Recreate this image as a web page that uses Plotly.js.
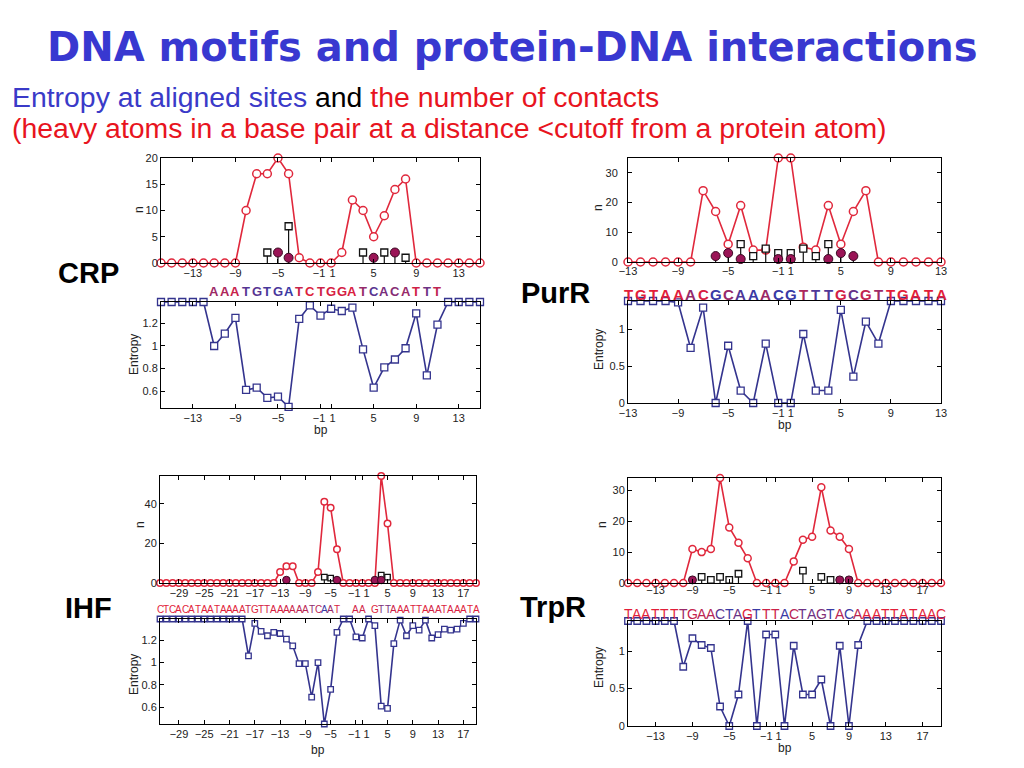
<!DOCTYPE html>
<html><head><meta charset="utf-8">
<script src="https://cdn.plot.ly/plotly-3.0.1.min.js"></script>
<style>html,body{margin:0;padding:0;background:#fff;}#chart{width:1024px;height:768px;}</style>
</head><body><div id="chart"></div>
<script>
// ---------- DATA ----------
const crpPos = [-16,-15,-14,-13,-12,-11,-10,-9,-8,-7,-6,-5,-4,-3,-2,-1,1,2,3,4,5,6,7,8,9,10,11,12,13,14,15];
const crpN = [0,0,0,0,0,0,0,0,10,17,17,20,17,1,0,0,0,2,12,10,5,9,14,16,0,0,0,0,0,0,0];
const crpEnt = [1.39,1.39,1.39,1.39,1.39,1.0,1.11,1.25,0.61,0.63,0.54,0.55,0.46,1.24,1.36,1.27,1.33,1.31,1.34,0.97,0.63,0.81,0.88,0.98,1.29,0.74,1.19,1.39,1.39,1.39,1.39];
const crpSqPos = [-6,-4,4,6,8];
const crpSqVal = [2,7,2,2,1];
const crpMagPos = [-5,-4,5,7];
const crpMagVal = [2,1,1,2];
const crpSeqPos = [-11,-10,-9,-8,-7,-6,-5,-4,-3,-2,-1,1,2,3,4,5,6,7,8,9,10,11];
const crpSeq = "AAATGTGATCTGGATCACATTT";
const crpTicks = [-13,-9,-5,-1,1,5,9,13];

const purPos = [-13,-12,-11,-10,-9,-8,-7,-6,-5,-4,-3,-2,-1,1,2,3,4,5,6,7,8,9,10,11,12,13];
const purN = [0,0,0,0,0,0,24,17,6,19,4,4,35,35,5,4,19,6,17,24,0,0,0,0,0,0];
const purEnt = [1.39,1.39,1.39,1.39,1.37,0.75,1.3,0,0.78,0.17,0,0.81,0,0,0.94,0.17,0.17,1.27,0.36,1.11,0.81,1.39,1.39,1.39,1.39,1.39];
const purSqPos = [-4,-3,-2,-1,1,2,3,4];
const purSqVal = [6,2,4.5,3,3,4.5,2,6];
const purMagPos = [-6,-5,-4,-1,1,4,5,6];
const purMagVal = [2,3,1,1,1,1,3,2];
const purSeqPos = purPos;
const purSeq = "TGTAAACGCAAACGTTTGCGTTGATA";
const purTicks = [-13,-9,-5,-1,1,5,9,13];

const ihfPos = [-32,-31,-30,-29,-28,-27,-26,-25,-24,-23,-22,-21,-20,-19,-18,-17,-16,-15,-14,-13,-12,-11,-10,-9,-8,-7,-6,-5,-4,-3,-2,-1,1,2,3,4,5,6,7,8,9,10,11,12,13,14,15,16,17,18,19];
const ihfN = [0,0,0,0,0,0,0,0,0,0,0,0,0,0,0,0,0,0,0,5.5,8.5,8.5,0,0,0,5.5,41,38,17,0,0,0,0,0,0,54,30,0,0,0,0,0,0,0,0,0,0,0,0,0,0];
const ihfEnt = [1.39,1.39,1.39,1.39,1.39,1.39,1.39,1.39,1.39,1.39,1.39,1.39,1.39,1.39,1.06,1.35,1.28,1.24,1.27,1.26,1.21,1.15,0.99,0.99,0.69,1.0,0.45,0.76,1.27,1.39,1.39,1.23,1.22,1.39,1.33,0.61,0.59,1.17,1.38,1.24,1.33,1.29,1.38,1.22,1.25,1.30,1.29,1.30,1.35,1.39,1.39];
const ihfSqPos = [-6,-5,4,5];
const ihfSqVal = [3,2.5,4,3];
const ihfMagPos = [-12,-4,3,4];
const ihfMagVal = [1.5,1.5,1.5,1.5];
const ihfSeqPos = ihfPos;
const ihfSeq = "CTCACATAATAAAATGTTAAAAAATCAAT  AA GTTAAATTAAATAAATA";
const ihfTicks = [-29,-25,-21,-17,-13,-9,-5,-1,1,5,9,13,17];

const trpPos = [-16,-15,-14,-13,-12,-11,-10,-9,-8,-7,-6,-5,-4,-3,-2,-1,1,2,3,4,5,6,7,8,9,10,11,12,13,14,15,16,17,18,19];
const trpN = [0,0,0,0,0,0,0,11,10,11,34,18,13,8,0,0,0,0,7,14,15,31,17,15,11,0,0,0,0,0,0,0,0,0,0];
const trpEnt = [1.4,1.4,1.4,1.4,1.4,1.4,0.79,1.17,1.08,1.04,0.26,0,0.42,1.4,0,1.22,1.22,0,1.07,0.42,0.42,0.62,0,1.07,0,1.08,1.4,1.4,1.4,1.4,1.4,1.4,1.4,1.4,1.4];
const trpSqPos = [-8,-7,-6,-5,-4,4,6,7];
const trpSqVal = [2,1,2,1,3,4,2,1];
const trpMagPos = [-9,8,9];
const trpMagVal = [1,1,1];
const trpSeqPos = trpPos;
const trpSeq = "TAATTTTGAACTAGTTTACTAGTACAAATTATAAC";
const trpTicks = [-13,-9,-5,-1,1,5,9,13,17];

// ---------- STYLE / LAYOUT ----------
const RED = '#e0283c', BLUE = '#34348e', MAG = '#9a1456';
const W = 1024, H = 768;
const panels = [
  {name:'CRP', pos:crpPos, n:crpN, ent:crpEnt, sqP:crpSqPos, sqV:crpSqVal, mgP:crpMagPos, mgV:crpMagVal,
   seqP:crpSeqPos, seq:crpSeq, ticks:crpTicks, nTicks:[0,5,10,15,20], nMax:20, eTicks:[0.6,0.8,1,1.2], eRange:[0.45,1.39],
   x:[161,480], top:[158,263], bot:[302,408], seqY:292, seqSize:13, seqBold:true, seqFam:'Liberation Sans, Arial, sans-serif', ms:8, ss:7,
   lbl:[88,273], nLbl:[139,210], eLbl:[134,355], bpLbl:[321,430], topStand:0, yStand:0, pad:1, merge:null},
  {name:'PurR', pos:purPos, n:purN, ent:purEnt, sqP:purSqPos, sqV:purSqVal, mgP:purMagPos, mgV:purMagVal,
   seqP:purSeqPos, seq:purSeq, ticks:purTicks, nTicks:[0,10,20,30], nMax:35, eTicks:[0,0.5,1], eRange:[0,1.39],
   x:[628,941], top:[158,262], bot:[301,403], seqY:294, seqSize:15, seqBold:true, seqFam:'Liberation Sans, Arial, sans-serif', ms:8, ss:7,
   lbl:[555,293], nLbl:[598,208], eLbl:[599,350], bpLbl:[785,425], topStand:-1, yStand:7, pad:0, merge:null},
  {name:'IHF', pos:ihfPos, n:ihfN, ent:ihfEnt, sqP:ihfSqPos, sqV:ihfSqVal, mgP:ihfMagPos, mgV:ihfMagVal,
   seqP:ihfSeqPos, seq:ihfSeq, ticks:ihfTicks, nTicks:[0,20,40], nMax:54, eTicks:[0.6,0.8,1,1.2], eRange:[0.45,1.39],
   x:[160,476], top:[476,583], bot:[619,724], seqY:609, seqSize:10, seqBold:false, seqFam:'Liberation Sans Narrow, Liberation Sans, Arial, sans-serif', ms:6.5, ss:5.5,
   lbl:[88,608], nLbl:[140,525], eLbl:[134,675], bpLbl:[318,750], topStand:0, yStand:0, pad:0, merge:[593,734]},
  {name:'TrpR', pos:trpPos, n:trpN, ent:trpEnt, sqP:trpSqPos, sqV:trpSqVal, mgP:trpMagPos, mgV:trpMagVal,
   seqP:trpSeqPos, seq:trpSeq, ticks:trpTicks, nTicks:[0,10,20,30], nMax:34, eTicks:[0,0.5,1], eRange:[0,1.4],
   x:[628,941], top:[478,583], bot:[621,726], seqY:614, seqSize:14, seqBold:false, seqFam:'Liberation Sans, Arial, sans-serif', ms:7, ss:6.5,
   lbl:[553,607], nLbl:[602,525], eLbl:[599,668], bpLbl:[785,748], topStand:-3, yStand:0, pad:0, merge:[590,736]}
];

function toX(p){ return p < 0 ? p : p - 1; }
function px(x){ return x / W; }
function py(y){ return 1 - y / H; }
function fmt(v){ return v < 0 ? '\u2212' + Math.abs(v) : String(v); }
function tickFmt(v, p){
  if (p.merge && (v === -1 || v === 1)) return '';
  const sp = '\u00a0'.repeat(p.pad);
  if (v === -1) return fmt(v) + sp;
  if (v === 1) return sp + fmt(v);
  return fmt(v);
}
function mix(t){
  const a=[58,58,165], b=[226,30,58];
  const c=a.map((v,i)=>Math.round(v+(b[i]-v)*t));
  return 'rgb('+c.join(',')+')';
}

const traces = [], annotations = [], layout = {
  width:W, height:H, margin:{l:0,r:0,t:0,b:0}, paper_bgcolor:'#fff', plot_bgcolor:'#fff',
  showlegend:false, font:{family:'Liberation Sans, Arial, sans-serif', size:11, color:'#222'}
};
const TICKFONT = {family:'Liberation Sans, Arial, sans-serif', size:11, color:'#222'};

function axisBase(){
  return {showline:true, mirror:'ticks', linecolor:'#000', linewidth:1, ticks:'inside', ticklen:4,
    tickcolor:'#000', zeroline:false, showgrid:false, fixedrange:true, tickangle:0, tickfont:TICKFONT};
}

panels.forEach((p,k)=>{
  const ti = 2*k+1, bi = 2*k+2;
  const xs = p.pos.map(toX);
  const xr = [xs[0], xs[xs.length-1]];
  const tv = p.ticks.map(toX), tt = p.ticks.map(v=>tickFmt(v,p));
  const xt = 'x'+(ti===1?'':ti), yt = 'y'+(ti===1?'':ti);
  const xb = 'x'+bi, yb = 'y'+bi;
  const xa = Object.assign(axisBase(), {domain:[px(p.x[0]),px(p.x[1])], range:xr, tickmode:'array', tickvals:tv, ticktext:tt, anchor:yt, ticklabelstandoff:p.topStand});
  const ya = Object.assign(axisBase(), {domain:[py(p.top[1]),py(p.top[0])], range:[0,p.nMax], tickmode:'array', tickvals:p.nTicks, anchor:xt, ticklabelstandoff:p.yStand});
  const xa2 = Object.assign(axisBase(), {domain:[px(p.x[0]),px(p.x[1])], range:xr, tickmode:'array', tickvals:tv, ticktext:tt, anchor:yb});
  const ya2 = Object.assign(axisBase(), {domain:[py(p.bot[1]),py(p.bot[0])], range:p.eRange, tickmode:'array', tickvals:p.eTicks, anchor:xb});
  layout['xaxis'+(ti===1?'':ti)] = xa; layout['yaxis'+(ti===1?'':ti)] = ya;
  layout['xaxis'+bi] = xa2; layout['yaxis'+bi] = ya2;

  // merged "-1 1" label (the two ticks sit one base apart)
  if (p.merge){
    const mid = (toX(-1)+toX(1))/2;
    [[xt,p.merge[0]],[xb,p.merge[1]]].forEach(([ax,yy])=>{
      annotations.push({xref:ax, yref:'paper', x:mid, y:py(yy), text:fmt(-1)+'\u00a0'+fmt(1), showarrow:false,
        xanchor:'center', yanchor:'middle', font:TICKFONT});
    });
  }

  // contacts line
  traces.push({x:xs, y:p.n, xaxis:xt, yaxis:yt, mode:'lines+markers', cliponaxis:false,
    line:{color:RED, width:1.6}, marker:{symbol:'circle', size:p.ms, color:'#fff', line:{color:RED, width:1.5}}});
  // stems
  function stems(P,V){
    const sx=[], sy=[];
    P.forEach((q,i)=>{ sx.push(toX(q),toX(q),null); sy.push(0,V[i],null); });
    return {x:sx, y:sy, xaxis:xt, yaxis:yt, mode:'lines', cliponaxis:false, line:{color:'#111', width:1.2}, hoverinfo:'skip'};
  }
  traces.push(stems(p.sqP,p.sqV));
  traces.push(stems(p.mgP,p.mgV));
  traces.push({x:p.sqP.map(toX), y:p.sqV, xaxis:xt, yaxis:yt, mode:'markers', cliponaxis:false,
    marker:{symbol:'square', size:p.ss, color:'#fff', line:{color:'#111', width:1.3}}});
  traces.push({x:p.mgP.map(toX), y:p.mgV, xaxis:xt, yaxis:yt, mode:'markers', cliponaxis:false,
    marker:{symbol:'circle', size:p.ms+1, color:MAG, line:{color:'#3a0a22', width:1}}});
  // entropy
  traces.push({x:xs, y:p.ent, xaxis:xb, yaxis:yb, mode:'lines+markers', cliponaxis:false,
    line:{color:BLUE, width:1.6}, marker:{symbol:'square', size:p.ss, color:'#fff', line:{color:BLUE, width:1.3}}});

  // sequence letters coloured by entropy
  const emin = Math.min(...p.ent), emax = Math.max(...p.ent);
  for (let i=0;i<p.seq.length;i++){
    const ch = p.seq[i]; if (ch===' ') continue;
    const q = p.seqP[i];
    const e = p.ent[p.pos.indexOf(q)];
    const t = Math.pow((e-emin)/(emax-emin), k===2 ? 0.5 : 1);
    annotations.push({xref:xb, yref:'paper', x:toX(q), y:py(p.seqY), text:p.seqBold?'<b>'+ch+'</b>':ch,
      showarrow:false, xanchor:'center', yanchor:'middle',
      font:{family:p.seqFam, size:p.seqSize, color:mix(t)}});
  }
  // labels
  annotations.push({xref:'paper', yref:'paper', x:px(p.lbl[0]), y:py(p.lbl[1]), text:'<b>'+p.name+'</b>', showarrow:false,
    xanchor:'center', yanchor:'middle', font:{family:'Liberation Sans, Arial, sans-serif', size:29, color:'#000'}});
  annotations.push({xref:'paper', yref:'paper', x:px(p.nLbl[0]), y:py(p.nLbl[1]), text:'n', textangle:-90, showarrow:false,
    xanchor:'center', yanchor:'middle', font:{size:12, color:'#222'}});
  annotations.push({xref:'paper', yref:'paper', x:px(p.eLbl[0]), y:py(p.eLbl[1]), text:'Entropy', textangle:-90, showarrow:false,
    xanchor:'center', yanchor:'middle', font:{size:12, color:'#222'}});
  annotations.push({xref:'paper', yref:'paper', x:px(p.bpLbl[0]), y:py(p.bpLbl[1]), text:'bp', showarrow:false,
    xanchor:'center', yanchor:'middle', font:{size:12, color:'#222'}});
});

// title and subtitle
annotations.push({xref:'paper', yref:'paper', x:0.5, y:py(47), text:'<b>DNA motifs and protein-DNA interactions</b>', showarrow:false,
  xanchor:'center', yanchor:'middle', font:{family:'DejaVu Sans, sans-serif', size:40, color:'#3838d0'}});
annotations.push({xref:'paper', yref:'paper', x:px(10), y:py(97), align:'left', showarrow:false, xanchor:'left', yanchor:'middle',
  text:'<span style="color:#3a3ac8">Entropy at aligned sites</span> <span style="color:#000">and</span> <span style="color:#e8141e">the number of contacts</span>',
  font:{family:'Liberation Sans, Arial, sans-serif', size:28.4}});
annotations.push({xref:'paper', yref:'paper', x:px(10), y:py(128), align:'left', showarrow:false, xanchor:'left', yanchor:'middle',
  text:'(heavy atoms in a base pair at a distance &lt;cutoff from a protein atom)',
  font:{family:'Liberation Sans, Arial, sans-serif', size:28.4, color:'#e8141e'}});

layout.annotations = annotations;
Plotly.newPlot('chart', traces, layout, {staticPlot:true, displayModeBar:false});
</script></body></html>
